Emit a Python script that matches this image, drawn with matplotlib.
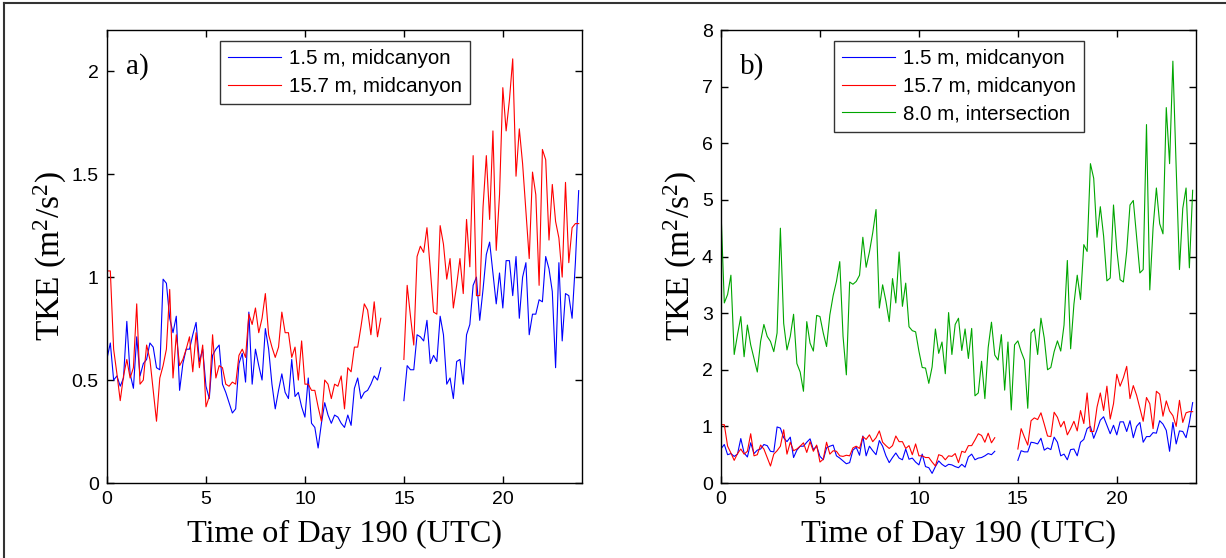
import numpy as np
import matplotlib
matplotlib.use('Agg')
import matplotlib.pyplot as plt
from matplotlib.lines import Line2D
from matplotlib.ticker import FuncFormatter

# 10-minute TKE averages, day 190 (UTC); data gap between 13:50 and 15:00
t_am = np.arange(84) / 6.0
t_pm = 15.0 + np.arange(54) / 6.0
t_all = np.arange(144) / 6.0

tke_mid15_am = [0.605, 0.68, 0.50, 0.52, 0.47, 0.51, 0.785, 0.53, 0.46, 0.71, 0.52, 0.58,
                0.60, 0.68, 0.66, 0.56, 0.55, 0.99, 0.97, 0.80, 0.73, 0.81, 0.45, 0.58,
                0.65, 0.65, 0.72, 0.78, 0.59, 0.65, 0.47, 0.41, 0.62, 0.65, 0.67, 0.48,
                0.44, 0.39, 0.34, 0.36, 0.58, 0.63, 0.49, 0.83, 0.48, 0.65, 0.57, 0.50,
                0.75, 0.65, 0.48, 0.36, 0.45, 0.53, 0.44, 0.41, 0.60, 0.42, 0.44, 0.37,
                0.32, 0.51, 0.29, 0.27, 0.17, 0.29, 0.39, 0.33, 0.29, 0.33, 0.32, 0.29,
                0.27, 0.33, 0.28, 0.46, 0.51, 0.41, 0.44, 0.45, 0.48, 0.52, 0.50, 0.56]
tke_mid15_pm = [0.40, 0.57, 0.55, 0.55, 0.72, 0.71, 0.69, 0.79, 0.58, 0.62, 0.59, 0.81,
                0.72, 0.48, 0.51, 0.41, 0.59, 0.60, 0.48, 0.72, 0.77, 0.96, 1.00, 0.79,
                0.94, 1.11, 1.17, 1.02, 0.87, 1.02, 0.85, 1.08, 1.08, 0.91, 1.10, 0.80,
                1.00, 1.07, 0.72, 0.82, 0.82, 0.89, 0.88, 1.10, 1.04, 0.93, 0.56, 1.07,
                0.69, 0.92, 0.91, 0.80, 1.07, 1.42]

tke_mid157_am = [1.03, 1.03, 0.65, 0.53, 0.40, 0.52, 0.60, 0.51, 0.56, 0.87, 0.48, 0.50,
                 0.67, 0.60, 0.45, 0.30, 0.51, 0.57, 0.65, 0.94, 0.51, 0.72, 0.57, 0.60,
                 0.65, 0.71, 0.54, 0.73, 0.56, 0.67, 0.37, 0.42, 0.72, 0.51, 0.57, 0.56,
                 0.48, 0.47, 0.49, 0.48, 0.62, 0.65, 0.61, 0.82, 0.77, 0.85, 0.73, 0.80,
                 0.92, 0.72, 0.66, 0.61, 0.66, 0.83, 0.73, 0.73, 0.61, 0.66, 0.50, 0.69,
                 0.48, 0.48, 0.45, 0.45, 0.37, 0.30, 0.50, 0.48, 0.41, 0.48, 0.47, 0.52,
                 0.36, 0.56, 0.54, 0.66, 0.66, 0.76, 0.87, 0.84, 0.72, 0.88, 0.71, 0.80]
tke_mid157_pm = [0.60, 0.96, 0.81, 0.67, 1.10, 1.15, 1.12, 1.24, 1.04, 0.83, 0.82, 1.25,
                 1.16, 0.99, 1.09, 0.85, 0.96, 1.09, 0.92, 1.28, 1.05, 1.59, 0.91, 0.91,
                 1.34, 1.59, 1.28, 1.71, 1.13, 1.40, 1.92, 1.71, 1.86, 2.06, 1.49, 1.72,
                 1.55, 1.32, 1.09, 1.51, 1.40, 0.96, 1.62, 1.57, 1.18, 1.45, 1.27, 1.19,
                 1.00, 1.46, 1.07, 1.24, 1.26, 1.26]

tke_int80 = [4.80, 3.18, 3.33, 3.67, 2.27, 2.62, 2.94, 2.23, 2.79, 2.44, 2.20, 1.96,
             2.50, 2.80, 2.59, 2.50, 2.32, 2.65, 4.50, 2.82, 2.35, 2.59, 2.98, 2.11,
             1.96, 1.62, 2.85, 2.47, 2.33, 2.96, 2.94, 2.65, 2.41, 2.97, 3.31, 3.56,
             3.91, 2.59, 1.91, 3.55, 3.51, 3.56, 3.67, 4.34, 3.81, 4.08, 4.42, 4.83,
             3.09, 3.50, 3.21, 2.85, 3.61, 3.18, 4.08, 3.12, 3.53, 2.76, 2.69, 2.67,
             2.33, 2.04, 2.03, 1.76, 2.05, 2.72, 2.29, 2.49, 1.93, 3.01, 2.27, 2.80,
             2.91, 2.34, 2.72, 2.20, 2.73, 1.54, 1.59, 2.15, 1.49, 2.39, 2.84, 2.26,
             2.17, 2.62, 1.64, 2.49, 1.29, 2.44, 2.51, 2.32, 2.17, 1.32, 2.65, 2.72,
             2.27, 2.91, 2.56, 2.00, 2.04, 2.32, 2.51, 2.33, 2.79, 3.93, 2.37, 3.16,
             3.67, 3.24, 4.21, 4.09, 5.64, 5.38, 4.34, 4.88, 4.36, 3.57, 3.62, 4.91,
             4.12, 3.59, 3.55, 4.09, 4.91, 4.99, 4.36, 3.71, 3.77, 6.33, 3.41, 4.51,
             5.21, 4.58, 4.40, 6.63, 5.64, 7.45, 5.57, 3.77, 4.85, 5.21, 3.80, 5.17]

labels = ['1.5 m, midcanyon', '15.7 m, midcanyon', '8.0 m, intersection']
serif = ['Liberation Serif', 'DejaVu Serif']
sans = ['Liberation Sans', 'DejaVu Sans']

plt.rcParams['font.family'] = sans
plt.rcParams['mathtext.fontset'] = 'custom'
plt.rcParams['mathtext.rm'] = 'Liberation Serif'
plt.rcParams['mathtext.it'] = 'Liberation Serif:italic'

fig = plt.figure(figsize=(12.26, 5.58), dpi=100)
ax_a = fig.add_axes([0.0873, 0.1344, 0.3874, 0.8118])
ax_b = fig.add_axes([0.5881, 0.1344, 0.3874, 0.8118])

lw = 0.8
blue, red, green = (0, 0, 1), (1, 0, 0), (0, 0.65, 0)

ax_a.plot(t_am, tke_mid15_am, color=blue, lw=lw, label=labels[0])
ax_a.plot(t_am, tke_mid157_am, color=red, lw=lw, label=labels[1])
ax_a.plot(t_pm, tke_mid15_pm, color=blue, lw=lw)
ax_a.plot(t_pm, tke_mid157_pm, color=red, lw=lw)

ax_b.plot(t_am, tke_mid15_am, color=blue, lw=lw, label=labels[0])
ax_b.plot(t_am, tke_mid157_am, color=red, lw=lw, label=labels[1])
ax_b.plot(t_all, tke_int80, color=green, lw=lw, label=labels[2])
ax_b.plot(t_pm, tke_mid15_pm, color=blue, lw=lw)
ax_b.plot(t_pm, tke_mid157_pm, color=red, lw=lw)

ax_a.set_ylim(0, 2.2)
ax_a.set_yticks([0, 0.5, 1, 1.5, 2])
ax_b.set_ylim(0, 8)
ax_b.set_yticks(range(9))

for ax, tag in zip([ax_a, ax_b], ['a)', 'b)']):
    ax.set_xlim(0, 24)
    ax.set_xticks([0, 5, 10, 15, 20])
    ax.yaxis.set_major_formatter(FuncFormatter(lambda v, p: '%g' % v))
    ax.tick_params(direction='in', length=5, width=1, top=True, right=True,
                   labelsize=14, pad=6)
    for s in ax.spines.values():
        s.set_linewidth(1.0)
    ax.set_xlabel('Time of Day 190 (UTC)', family=serif, fontsize=23.3, labelpad=8)
    ax.set_ylabel(r'TKE (m$^2$/s$^2$)', family=serif, fontsize=24, labelpad=2)
    ax.text(0.04, 0.92, tag, transform=ax.transAxes, family=serif, fontsize=21,
            va='center', ha='left')
    leg = ax.legend(loc='upper left', bbox_to_anchor=(0.238, 0.976), borderaxespad=0,
                    fontsize=14.8, frameon=True, fancybox=False, handlelength=2.55,
                    handletextpad=0.4, borderpad=0.4, labelspacing=0.42)
    leg.get_frame().set_edgecolor('black')
    leg.get_frame().set_linewidth(1.0)

# outer frame of the figure (top and left edges visible)
fig.add_artist(Line2D([0.003, 0.003], [0, 0.994], transform=fig.transFigure,
                      color='#333333', lw=1.5))
fig.add_artist(Line2D([0.003, 1.0], [0.994, 0.994], transform=fig.transFigure,
                      color='#333333', lw=1.5))

fig.savefig('out.png', dpi=100)
